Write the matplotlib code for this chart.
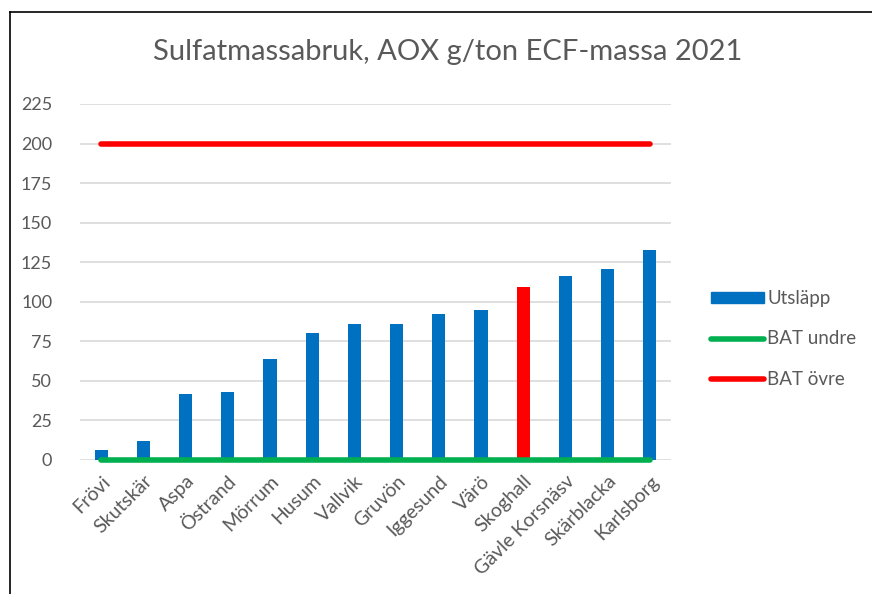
import numpy as np
import matplotlib; matplotlib.use('Agg')
import matplotlib.pyplot as plt
from matplotlib.lines import Line2D
from matplotlib.patches import Patch

plt.rcParams['font.family'] = ['Lato', 'DejaVu Sans']

mills = ['Frövi', 'Skutskär', 'Aspa', 'Östrand', 'Mörrum', 'Husum', 'Vallvik',
         'Gruvön', 'Iggesund', 'Värö', 'Skoghall', 'Gävle Korsnäsv',
         'Skärblacka', 'Karlsborg']
utslapp = [6.5, 12, 42, 43, 64, 80, 86, 86, 92.5, 95, 109.5, 116.5, 120.5, 132.5]
bat_undre = [0] * len(mills)
bat_ovre = [200] * len(mills)
highlight = 'Skoghall'

TXT = '#595959'
BLUE = '#0070C0'
RED = '#FF0000'
GREEN = '#00B050'

fig = plt.figure(figsize=(8.72, 5.94), dpi=100)
ax = fig.add_axes([80 / 872, 1 - 460 / 594, 591 / 872, 356 / 594])

x = np.arange(len(mills))
colors = [RED if m == highlight else BLUE for m in mills]
ax.bar(x, utslapp, width=0.31, color=colors, zorder=2)
ax.plot(x, bat_undre, color=GREEN, lw=4, solid_capstyle='round', zorder=3, clip_on=False)
ax.plot(x, bat_ovre, color=RED, lw=4, solid_capstyle='round', zorder=3, clip_on=False)

ax.set_xlim(-0.5, len(mills) - 0.5)
ax.set_ylim(0, 225)
ax.set_yticks(np.arange(0, 226, 25))
ax.yaxis.grid(True, color='#D9D9D9', lw=1.2, zorder=0)
for s in ax.spines.values():
    s.set_visible(False)
ax.tick_params(length=0, colors=TXT, labelsize=13)
ax.tick_params(axis='y', pad=20)
ax.set_xticks(x)
ax.set_xticklabels(mills, rotation=45, ha='right', rotation_mode='anchor', fontsize=14)
ax.tick_params(axis='x', pad=9)

fig.text(448 / 872, 1 - 52 / 594, 'Sulfatmassabruk, AOX g/ton ECF-massa 2021',
         ha='center', va='center', fontsize=21, color=TXT)

handles = [Patch(color=BLUE),
           Line2D([], [], color=GREEN, lw=4, solid_capstyle='round'),
           Line2D([], [], color=RED, lw=4, solid_capstyle='round')]
leg = fig.legend(handles, ['Utsläpp', 'BAT undre', 'BAT övre'],
                 loc='center left', bbox_to_anchor=(711 / 872, 1 - 339 / 594),
                 frameon=False, fontsize=13.5, handlelength=2.8, handleheight=0.5,
                 handletextpad=0.2, labelspacing=1.25, labelcolor=TXT,
                 borderpad=0, borderaxespad=0)

# chart border (left and top edges visible)
fig.add_artist(Line2D([10 / 872, 10 / 872], [0, 1 - 12 / 594], color='black', lw=1.2))
fig.add_artist(Line2D([10 / 872, 1], [1 - 12 / 594, 1 - 12 / 594], color='black', lw=1.2))

fig.savefig('out.png', dpi=100)
